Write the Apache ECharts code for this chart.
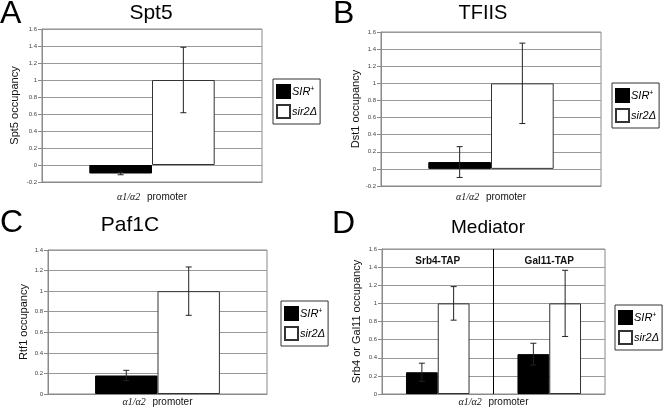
<!DOCTYPE html>
<html>
<head>
<meta charset="utf-8">
<script src="https://cdn.jsdelivr.net/npm/echarts@6/dist/echarts.min.js"></script>
<style>html,body{margin:0;padding:0;background:#fff;}#c{width:664px;height:414px;}</style>
</head>
<body>
<div id="c"></div>
<script>
// ---- data ----
const promoterCat = ['α1/α2 promoter'];
const mediatorCats = ['Srb4-TAP', 'Gal11-TAP'];
const seriesNames = ['SIR⁺', 'sir2Δ'];
const yTicksA = { min: -0.2, max: 1.6, interval: 0.2 };
const yTicksB = { min: -0.2, max: 1.6, interval: 0.2 };
const yTicksC = { min: 0, max: 1.4, interval: 0.2 };
const yTicksD = { min: 0, max: 1.6, interval: 0.2 };

const spt5SIR = [-0.10];
const spt5SIRErr = [0.015];
const spt5Sir2 = [1.00];
const spt5Sir2Err = [0.385];

const tfiisSIR = [0.08];
const tfiisSIRErr = [0.18];
const tfiisSir2 = [1.00];
const tfiisSir2Err = [0.47];

const paf1SIR = [0.18];
const paf1SIRErr = [0.05];
const paf1Sir2 = [1.00];
const paf1Sir2Err = [0.235];

const medSIR = [0.24, 0.44];
const medSIRErr = [0.10, 0.12];
const medSir2 = [1.00, 1.00];
const medSir2Err = [0.185, 0.365];

const panelTitles = ['Spt5', 'TFIIS', 'Paf1C', 'Mediator'];
const panelLetters = ['A', 'B', 'C', 'D'];
const yNames = ['Spt5 occupancy', 'Dst1 occupancy', 'Rtf1 occupancy', 'Srb4 or Gal11 occupancy'];

// ---- layout ----
const FONT = 'Liberation Sans, Arial, Helvetica, sans-serif';
const GAP = 0.43;
const grids = [
  { left: 42, top: 29, width: 220, height: 153 },
  { left: 381, top: 32, width: 220, height: 154 },
  { left: 48, top: 250, width: 219, height: 144 },
  { left: 382, top: 249, width: 223, height: 145 }
];
const yNameGaps = [22, 20, 19, 20];
const xNameGaps = [9, 5, 2, 2];
const legendPos = [
  { left: 273, top: 79 },
  { left: 612, top: 83 },
  { left: 281, top: 301 },
  { left: 615, top: 305 }
];
const titleSizes = [21, 20, 21, 19];

function errRender(sign) {
  return function (params, api) {
    const x = api.value(0), v = api.value(1), e = api.value(2);
    const band = api.size([1, 0])[0];
    const bw = band * (1 - GAP) / 2;
    const cx = api.coord([x, v])[0] + sign * bw / 2;
    const yt = api.coord([x, v + e])[1];
    const yb = api.coord([x, v - e])[1];
    const st = { stroke: '#222', lineWidth: 1 };
    const cap = 3;
    return {
      type: 'group',
      children: [
        { type: 'line', shape: { x1: cx, y1: yt, x2: cx, y2: yb }, style: st },
        { type: 'line', shape: { x1: cx - cap, y1: yt, x2: cx + cap, y2: yt }, style: st },
        { type: 'line', shape: { x1: cx - cap, y1: yb, x2: cx + cap, y2: yb }, style: st }
      ]
    };
  };
}

const panelData = [
  [spt5SIR, spt5SIRErr, spt5Sir2, spt5Sir2Err],
  [tfiisSIR, tfiisSIRErr, tfiisSir2, tfiisSir2Err],
  [paf1SIR, paf1SIRErr, paf1Sir2, paf1Sir2Err],
  [medSIR, medSIRErr, medSir2, medSir2Err]
];
const yTicks = [yTicksA, yTicksB, yTicksC, yTicksD];

const gridOpt = [], xAxes = [], yAxes = [], series = [], legends = [], graphics = [];

for (let p = 0; p < 4; p++) {
  gridOpt.push(Object.assign({ show: true, borderColor: '#8a8a8a', borderWidth: 1, backgroundColor: 'transparent' }, grids[p]));
  const cats = p === 3 ? mediatorCats : promoterCat;
  const xIdx = xAxes.length;
  xAxes.push({
    type: 'category', gridIndex: p, data: cats, position: 'bottom',
    axisLine: { onZero: false, lineStyle: { color: '#8a8a8a' } },
    axisTick: { show: false }, axisLabel: { show: false }, splitLine: { show: false },
    name: '{i|α1/α2}  {n|promoter}', nameLocation: 'middle', nameGap: xNameGaps[p],
    nameTextStyle: {
      rich: {
        i: { fontStyle: 'italic', fontFamily: 'Liberation Serif, Times New Roman, serif', fontSize: 10, color: '#111' },
        n: { fontFamily: FONT, fontSize: 10, color: '#111' }
      }
    }
  });
  if (p === 3) {
    xAxes.push({
      type: 'category', gridIndex: p, data: cats, position: 'top',
      axisLine: { show: false }, axisTick: { show: false },
      axisLabel: { inside: true, margin: 7, fontFamily: FONT, fontSize: 10, fontWeight: 'bold', color: '#111' },
      splitLine: { show: true, showMinLine: false, showMaxLine: false, lineStyle: { color: '#000', width: 1 } }
    });
  }
  yAxes.push({
    type: 'value', gridIndex: p, min: yTicks[p].min, max: yTicks[p].max, interval: yTicks[p].interval,
    axisLine: { show: true, lineStyle: { color: '#8a8a8a' } },
    axisTick: { show: true, length: 4, lineStyle: { color: '#8a8a8a' } },
    axisLabel: { fontSize: 6, color: '#444', margin: 5, fontFamily: FONT },
    splitLine: { show: true, lineStyle: { color: '#999', width: 1 } },
    name: yNames[p], nameLocation: 'middle', nameGap: yNameGaps[p],
    nameTextStyle: { fontSize: 11, color: '#111', fontFamily: FONT }
  });
  const [a, ae, b, be] = panelData[p];
  series.push({
    name: seriesNames[0], type: 'bar', xAxisIndex: xIdx, yAxisIndex: p,
    data: a, barGap: 0, barCategoryGap: (GAP * 100) + '%',
    itemStyle: { color: '#000', borderColor: '#000', borderWidth: 1 }, z: 2, animation: false
  });
  series.push({
    name: seriesNames[1], type: 'bar', xAxisIndex: xIdx, yAxisIndex: p,
    data: b, barGap: 0, barCategoryGap: (GAP * 100) + '%',
    itemStyle: { color: '#fff', borderColor: '#333', borderWidth: 1 }, z: 2, animation: false
  });
  series.push({
    type: 'custom', xAxisIndex: xIdx, yAxisIndex: p, z: 5, animation: false,
    renderItem: errRender(-1), data: a.map((v, i) => [i, v, ae[i]]), silent: true
  });
  series.push({
    type: 'custom', xAxisIndex: xIdx, yAxisIndex: p, z: 5, animation: false,
    renderItem: errRender(1), data: b.map((v, i) => [i, v, be[i]]), silent: true
  });
  legends.push(Object.assign({
    orient: 'vertical', data: seriesNames, icon: 'rect', itemWidth: 13, itemHeight: 13, itemGap: 5,
    padding: [5, 3, 5, 3], borderColor: '#333', borderWidth: 1, backgroundColor: '#fff',
    selectedMode: false,
    formatter: function (name) { return name === seriesNames[0] ? '{a|SIR}{s|+}' : '{a|sir2Δ}'; },
    textStyle: {
      padding: [0, 0, 0, -3],
      rich: {
        a: { fontStyle: 'italic', fontSize: 11, fontFamily: FONT, color: '#000' },
        s: { fontSize: 7, fontFamily: FONT, color: '#000', verticalAlign: 'top', padding: [0, 0, 5, 0] }
      }
    }
  }, legendPos[p]));
}

// panel letters and titles (text)
const letterPos = [[0, 14], [333, 14], [0, 223], [332, 224]];
const titlePos = [[151, 13], [483, 13.5], [130, 225.5], [488, 228]];
for (let p = 0; p < 4; p++) {
  graphics.push({ type: 'text', x: letterPos[p][0], y: letterPos[p][1],
    style: { text: panelLetters[p], fontSize: 32, fontFamily: FONT, fill: '#000', align: 'left', verticalAlign: 'middle' } });
  graphics.push({ type: 'text', x: titlePos[p][0], y: titlePos[p][1],
    style: { text: panelTitles[p], fontSize: titleSizes[p], fontFamily: FONT, fill: '#000', align: 'center', verticalAlign: 'middle' } });
}

const chart = echarts.init(document.getElementById('c'), null, { renderer: 'canvas' });
chart.setOption({
  animation: false,
  backgroundColor: '#fff',
  grid: gridOpt,
  xAxis: xAxes,
  yAxis: yAxes,
  legend: legends,
  series: series,
  graphic: graphics
});
</script>
</body>
</html>
